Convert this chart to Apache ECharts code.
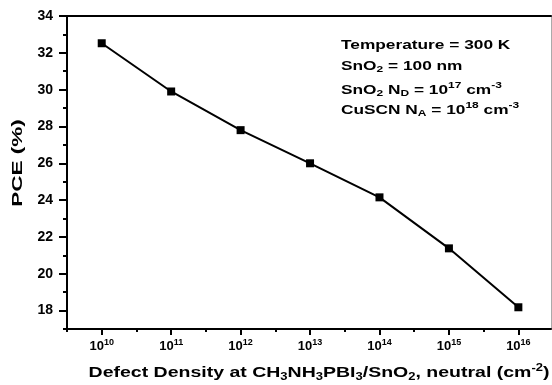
<!DOCTYPE html>
<html><head><meta charset="utf-8">
<script src="https://cdn.jsdelivr.net/npm/echarts@6/dist/echarts.min.js"></script>
<style>html,body{margin:0;padding:0;background:#fff}#c{width:552px;height:385px}</style>
</head><body><div id="c"></div>
<script>
// Data: defect density exponents (10^x cm^-2) and PCE (%)
const exponents = [10, 11, 12, 13, 14, 15, 16];
const pce = [32.52, 29.9, 27.8, 26.0, 24.15, 21.38, 18.18];
const xMajorTicks = [10, 11, 12, 13, 14, 15, 16];
const xMinorTicks = [9.5, 10.5, 11.5, 12.5, 13.5, 14.5, 15.5];
const yMajorTicks = [18, 20, 22, 24, 26, 28, 30, 32, 34];
const yMinorTicks = [17, 19, 21, 23, 25, 27, 29, 31, 33];
const annotations = [
  '{b|Temperature = 300 K}',
  '{b|SnO}{sub|2}{b| = 100 nm}',
  '{b|SnO}{sub|2}{b| N}{sub|D}{b| = 10}{sup|17}{b| cm}{sup|-3}',
  '{b|CuSCN N}{sub|A}{b| = 10}{sup|18}{b| cm}{sup|-3}'
];
const xTitle = '{b|Defect Density at CH}{sub|3}{b|NH}{sub|3}{b|PBI}{sub|3}{b|/SnO}{sub|2}{b|, neutral (cm}{sup|-2}{b|)}';
const yTitle = 'PCE (%)';

const FONT = 'Liberation Sans, Arial, sans-serif';
const chart = echarts.init(document.getElementById('c'), null, {renderer: 'canvas'});

function richSet(base, small, lh, slh) {
  return {
    b: {fontSize: base, fontWeight: 'bold', fontFamily: FONT, color: '#000', lineHeight: lh},
    sub: {fontSize: small, fontWeight: 'bold', fontFamily: FONT, color: '#000', lineHeight: slh, verticalAlign: 'bottom'},
    sup: {fontSize: small, fontWeight: 'bold', fontFamily: FONT, color: '#000', lineHeight: slh, verticalAlign: 'top'}
  };
}

const annY = [45, 66, 90, 110];
const graphics = annotations.map((t, i) => ({
  type: 'text', x: 341, y: annY[i], scaleX: 1.33,
  style: {text: t, rich: richSet(13, 9, 17, 10), verticalAlign: 'middle', align: 'left'}
}));
graphics.push({
  type: 'text', x: 319, y: 373, scaleX: 1.3,
  style: {text: xTitle, rich: richSet(15, 10, 19, 10), align: 'center', verticalAlign: 'middle'}
});
graphics.push({
  type: 'text', x: 18, y: 163, rotation: Math.PI / 2, scaleX: 1.5,
  style: {text: yTitle, fontSize: 15, fontWeight: 'bold', fontFamily: FONT, fill: '#000', align: 'center', verticalAlign: 'middle'}
});

const option = {
  animation: false,
  backgroundColor: '#fff',
  grid: {left: 67, top: 16, right: 1, bottom: 56, containLabel: false},
  xAxis: [
    {
      type: 'value', position: 'bottom', min: 9.5, max: 16.47,
      axisLine: {lineStyle: {color: '#000', width: 2}},
      axisTick: {customValues: xMajorTicks, length: 6, lineStyle: {color: '#000', width: 2}},
      axisLabel: {
        customValues: xMajorTicks, margin: 9,
        formatter: v => '{b|10}{sup|' + v + '}',
        rich: {
          b: {fontSize: 13, fontWeight: 'bold', fontFamily: FONT, color: '#000', lineHeight: 16},
          sup: {fontSize: 9, fontWeight: 'bold', fontFamily: FONT, color: '#000', lineHeight: 9, verticalAlign: 'top'}
        }
      },
      splitLine: {show: false}
    },
    {
      type: 'value', position: 'bottom', min: 9.5, max: 16.47,
      axisLine: {show: false},
      axisTick: {customValues: xMinorTicks, length: 3, lineStyle: {color: '#000', width: 2}},
      axisLabel: {show: false},
      splitLine: {show: false}
    },
    {
      type: 'value', position: 'top', min: 9.5, max: 16.47,
      axisLine: {lineStyle: {color: '#000', width: 2}},
      axisTick: {show: false}, axisLabel: {show: false}, splitLine: {show: false}
    }
  ],
  yAxis: [
    {
      type: 'value', position: 'left', min: 17, max: 34,
      axisLine: {show: true, lineStyle: {color: '#000', width: 2}},
      axisTick: {show: true, customValues: yMajorTicks, length: 8, lineStyle: {color: '#000', width: 2}},
      axisLabel: {customValues: yMajorTicks, margin: 14, fontSize: 14, fontWeight: 'bold', fontFamily: FONT, color: '#000'},
      splitLine: {show: false}
    },
    {
      type: 'value', position: 'left', min: 17, max: 34,
      axisLine: {show: false},
      axisTick: {show: true, customValues: yMinorTicks, length: 4, lineStyle: {color: '#000', width: 2}},
      axisLabel: {show: false}, splitLine: {show: false}
    },
    {
      type: 'value', position: 'right', min: 17, max: 34,
      axisLine: {show: true, lineStyle: {color: '#aaa', width: 1}},
      axisTick: {show: false}, axisLabel: {show: false}, splitLine: {show: false}
    }
  ],
  series: [{
    type: 'line', xAxisIndex: 0, yAxisIndex: 0,
    data: exponents.map((e, i) => [e, pce[i]]),
    symbol: 'rect', symbolSize: 8,
    lineStyle: {color: '#000', width: 2},
    itemStyle: {color: '#000'}
  }],
  graphic: graphics
};
chart.setOption(option);
</script></body></html>
